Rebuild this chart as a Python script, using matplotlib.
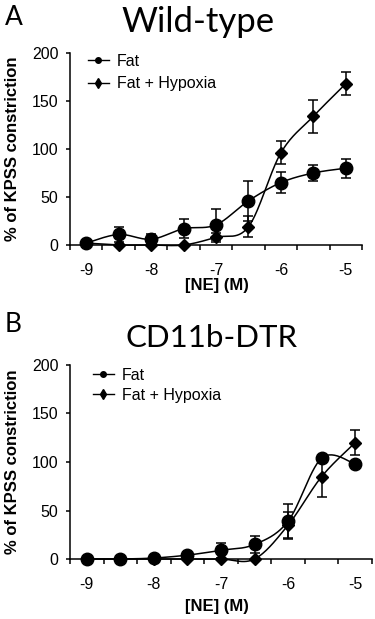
import numpy as np
import matplotlib
matplotlib.use("Agg")
import matplotlib.pyplot as plt
from matplotlib.lines import Line2D

###############################################################################
#Data
###############################################################################
conc = [-9, -8.5, -8, -7.5, -7, -6.5, -6, -5.5, -5]

#Wild-type
wt_fat = [2, 11, 6, 17, 21, 46, 65, 75, 80]
wt_fat_err = [0, 8, 5, 10, 16, 21, 11, 8, 10]
wt_hyp = [2, 0, 0, 0, 8, 19, 96, 134, 168]
wt_hyp_err = [0, 0, 0, 0, 5, 11, 12, 17, 12]

#CD11b-DTR
ko_fat = [0, 0, 1, 4, 9, 15, 39, 104, 98]
ko_fat_err = [0, 0, 0, 0, 8, 9, 18, 0, 0]
ko_hyp = [0, 0, 0, 0, 0, 0, 35, 85, 120]
ko_hyp_err = [0, 0, 0, 0, 0, 0, 13, 21, 13]

labels = ["Fat", "Fat + Hypoxia"]
xticklabels = ["-9", "-8", "-7", "-6", "-5"]

###############################################################################
#Helpers
###############################################################################
def smooth(x, y, n = 30):
    #Excel style smoothed line (Catmull-Rom through the points)
    x = np.asarray(x, float)
    y = np.asarray(y, float)
    px = np.concatenate([[x[0]], x, [x[-1]]])
    py = np.concatenate([[y[0]], y, [y[-1]]])
    xs, ys = [], []
    t = np.linspace(0, 1, n)
    for i in range(1, len(px) - 2):
        p0 = np.array([px[i], py[i]])
        p3 = np.array([px[i + 1], py[i + 1]])
        p1 = p0 + (np.array([px[i + 1], py[i + 1]]) - np.array([px[i - 1], py[i - 1]])) / 6
        p2 = p3 - (np.array([px[i + 2], py[i + 2]]) - np.array([px[i], py[i]])) / 6
        b = ((1 - t) ** 3)[:, None] * p0 + (3 * (1 - t) ** 2 * t)[:, None] * p1 \
            + (3 * (1 - t) * t ** 2)[:, None] * p2 + (t ** 3)[:, None] * p3
        xs.append(b[:, 0])
        ys.append(b[:, 1])
    return np.concatenate(xs), np.concatenate(ys)


def draw_series(ax, y, err, marker, ms):
    sx, sy = smooth(conc, y)
    ax.plot(sx, sy, color = "black", lw = 1.1, clip_on = False, zorder = 3)
    e = np.asarray(err, float)
    m = e > 0
    ax.errorbar(np.asarray(conc)[m], np.asarray(y, float)[m], yerr = e[m], fmt = "none",
                ecolor = "black", elinewidth = 1.1, capsize = 3.6, capthick = 1.1,
                clip_on = False, zorder = 3)
    ax.plot(conc, y, ls = "none", marker = marker, ms = ms, color = "black",
            clip_on = False, zorder = 4)


def style_axes(ax):
    ax.set_xlim(-9.25, -4.75)
    ax.set_ylim(0, 200)
    ax.spines["top"].set_visible(False)
    ax.spines["right"].set_visible(False)
    for s in ("left", "bottom"):
        ax.spines[s].set_linewidth(1.1)
    ax.set_yticks([0, 50, 100, 150, 200])
    ax.set_xticks([-9, -8, -7, -6, -5])
    ax.set_xticklabels(xticklabels)
    ax.set_xticks(np.arange(-9.25, -4.74, 0.5), minor = True)
    ax.tick_params(axis = "x", which = "major", length = 0, pad = 13, labelsize = 11.5)
    ax.tick_params(axis = "x", which = "minor", length = 3.6, width = 1.1, direction = "out")
    ax.tick_params(axis = "y", length = 2.9, width = 1.1, direction = "out", pad = 5.5, labelsize = 11.5)
    ax.set_ylabel("% of KPSS constriction", fontsize = 12, fontweight = "bold")
    ax.set_xlabel("[NE] (M)", fontsize = 12, fontweight = "bold")


###############################################################################
#Plot
###############################################################################
plt.rcParams["font.family"] = "Liberation Sans"

fig = plt.figure(figsize = (3.75, 6.19), dpi = 100)

ax1 = fig.add_axes([0.18667, 0.60420, 0.77867, 0.31018])
ax2 = fig.add_axes([0.18667, 0.09693, 0.80533, 0.31341])

draw_series(ax1, wt_fat, wt_fat_err, "o", 9)
draw_series(ax1, wt_hyp, wt_hyp_err, "D", 6)
draw_series(ax2, ko_fat, ko_fat_err, "o", 9)
draw_series(ax2, ko_hyp, ko_hyp_err, "D", 6)

style_axes(ax1)
style_axes(ax2)

ax1.yaxis.set_label_coords(-0.171, 0.5)
ax2.yaxis.set_label_coords(-0.166, 0.5)
ax1.xaxis.set_label_coords(0.502, -0.174)
ax2.xaxis.set_label_coords(0.488, -0.207)

#Legends
handles = [Line2D([], [], color = "black", lw = 1, marker = "o", ms = 4),
           Line2D([], [], color = "black", lw = 1, marker = "d", ms = 5)]
ax1.legend(handles, labels, loc = "upper left", bbox_to_anchor = (0.062, 0.995), frameon = False,
           borderpad = 0, borderaxespad = 0, handlelength = 1.3, handletextpad = 0.5,
           labelspacing = 0.45, fontsize = 11.5)
ax2.legend(handles, labels, loc = "upper left", bbox_to_anchor = (0.076, 0.985), frameon = False,
           borderpad = 0, borderaxespad = 0, handlelength = 1.3, handletextpad = 0.5,
           labelspacing = 0.3, fontsize = 11.5)

#Panel letters and titles
fig.text(5 / 375, 1 - 25 / 619, "A", ha = "left", va = "baseline", fontsize = 19, family = "Lato")
fig.text(198 / 375, 1 - 31.7 / 619, "Wild-type", ha = "center", va = "baseline", fontsize = 25, family = "Lato")
fig.text(5 / 375, 1 - 332 / 619, "B", ha = "left", va = "baseline", fontsize = 19, family = "Lato")
fig.text(211.5 / 375, 1 - 346.7 / 619, "CD11b-DTR", ha = "center", va = "baseline", fontsize = 22.5, family = "Lato")

fig.savefig("out.png", dpi = 100)
